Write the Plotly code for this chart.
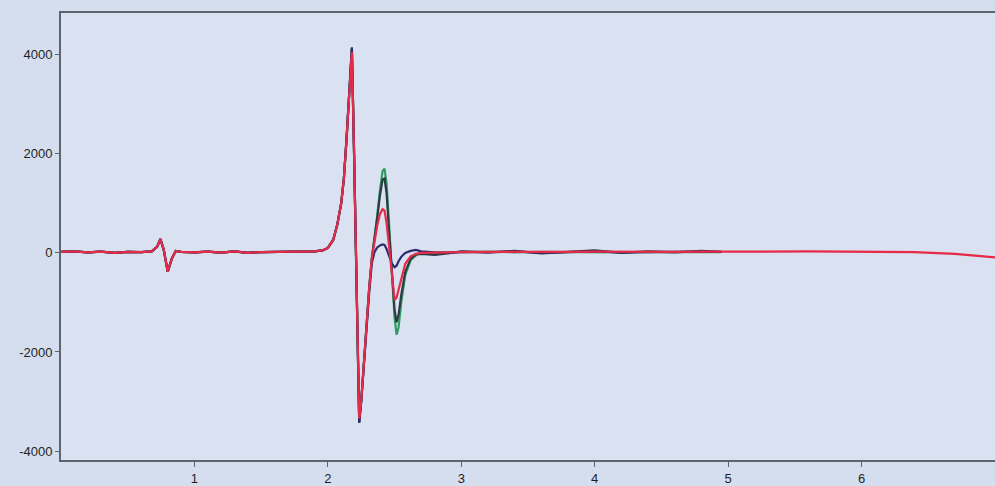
import plotly.graph_objects as go

# shared time axis for the four recorded traces (x units as on the chart)
t = [0.00, 0.10, 0.20, 0.30, 0.40, 0.50, 0.60, 0.68, 0.72, 0.745, 0.77, 0.80, 0.83, 0.86, 0.90,
     1.00, 1.10, 1.20, 1.30, 1.40, 1.50, 1.60, 1.70, 1.80, 1.90, 1.96, 2.00, 2.04, 2.07, 2.10,
     2.12, 2.14, 2.16, 2.18, 2.195, 2.205, 2.215, 2.225, 2.235, 2.25, 2.27, 2.29, 2.31, 2.33,
     2.35, 2.37, 2.39, 2.41, 2.425, 2.44, 2.46, 2.48, 2.50, 2.515, 2.53, 2.55, 2.58, 2.62, 2.66,
     2.70, 2.80, 2.90, 3.00, 3.20, 3.40, 3.60, 3.80, 4.00, 4.20, 4.40, 4.60, 4.80, 4.95]

pre = [20, 30, 10, 25, 0, 20, 15, 30, 120, 280, 60, -380, -120, 40, 20,
       10, 25, 5, 30, 0, 15, 20, 10, 30, 30, 50, 100, 260, 560, 1000,
       1500, 2300, 3300, 4100, 2200, 600, -1000, -2600, -3380, -3000, -2200, -1400, -700, -100]

green = pre + [280, 750, 1250, 1650, 1700, 1400, 500, -500, -1300, -1650, -1500, -1000, -450, -150, -50,
               0, 10, 20, 15, 25, 10, 20, 15, 25, 10, 20, 15, 20, 15]
dark = pre[:33] + [4150] + pre[34:38] + [-3420] + pre[39:] + \
       [270, 700, 1150, 1480, 1500, 1200, 400, -500, -1150, -1400, -1250, -850, -380, -120, -30,
        -20, -40, -10, 30, 10, 40, -10, 20, 50, 0, 30, 10, 40, 20]
navy = pre[:33] + [4130] + pre[34:38] + [-3430] + pre[39:41] + [-1450, -800, -200] + \
       [20, 110, 150, 170, 160, 80, -80, -220, -290, -260, -170, -80, 0, 40, 60,
        30, 10, 0, 20, 10, 30, 0, 15, 30, 10, 20, 15, 25, 20]
red = pre[:33] + [4050] + pre[34:38] + [-3340] + pre[39:] + \
      [250, 550, 780, 880, 850, 600, 100, -500, -950, -900, -750, -500, -220, -70, -20,
       0, 10, 20, 15, 20, 15, 25, 20, 25, 20, 25, 20, 25, 20]

# red continues alone to the end of the record
t_tail = [5.20, 5.60, 6.00, 6.40, 6.70, 6.90, 7.00]
red_tail = [25, 30, 30, 15, -20, -60, -90]

y_ticks = [-4000, -2000, 0, 2000, 4000]
x_ticks = [1, 2, 3, 4, 5, 6]

fig = go.Figure()
fig.add_trace(go.Scatter(x=t, y=green, mode="lines", line=dict(color="#2f9a62", width=2.2), name="green"))
fig.add_trace(go.Scatter(x=t, y=dark, mode="lines", line=dict(color="#2c3a44", width=2.2), name="dark"))
fig.add_trace(go.Scatter(x=t, y=navy, mode="lines", line=dict(color="#2e2c6e", width=2.2), name="navy"))
fig.add_trace(go.Scatter(x=t + t_tail, y=red + red_tail, mode="lines",
                         line=dict(color="#e62a48", width=2.2), name="red"))

axis_font = dict(family="Liberation Sans, Arial, sans-serif", size=13, color="#1e1e1e")
fig.update_layout(
    width=995, height=486,
    margin=dict(l=61, r=0, t=13, b=24),
    paper_bgcolor="#d5deee",
    plot_bgcolor="#dae2f1",
    showlegend=False,
    xaxis=dict(range=[0, 7], tickvals=x_ticks, ticktext=[str(v) for v in x_ticks],
               showgrid=False, zeroline=False, showline=True, linecolor="#5c6470", linewidth=2,
               mirror=True, ticks="outside", ticklen=5, tickcolor="#5c6470", tickfont=axis_font),
    yaxis=dict(range=[-4180, 4840], tickvals=y_ticks, ticktext=[str(v) for v in y_ticks],
               showgrid=False, zeroline=False, showline=True, linecolor="#5c6470", linewidth=2,
               ticks="outside", ticklen=4, tickcolor="#5c6470", tickfont=axis_font),
)
fig.write_html("out.html", config={"displayModeBar": False},
               post_script="document.body.style.margin='0';document.body.style.overflow='hidden';")
